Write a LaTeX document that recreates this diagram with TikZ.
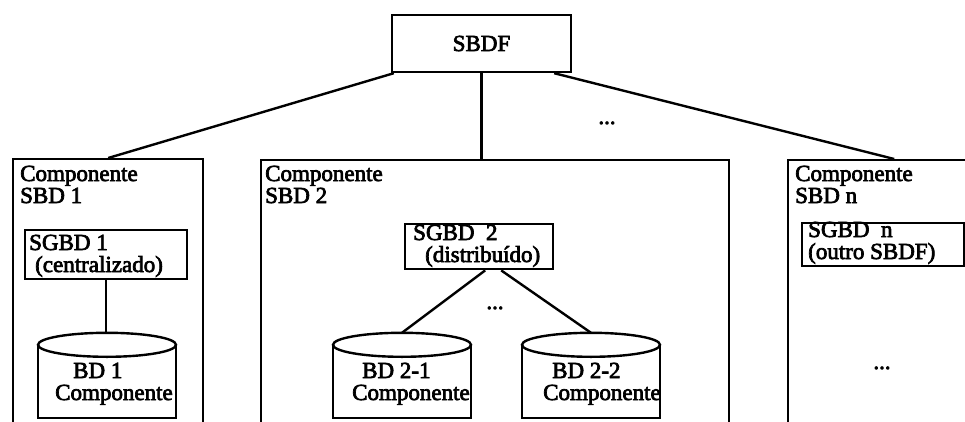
\documentclass[tikz,border=0pt]{standalone}
\usepackage{fontspec}
\setmainfont{Liberation Serif}[FakeBold=3]
\usetikzlibrary{calc}
\begin{document}
\begin{tikzpicture}[x=1pt,y=-1pt,
  every node/.style={font=\fontsize{23pt}{22pt}\selectfont},
  frame/.style={draw, line width=2.4pt, inner sep=0pt, anchor=north west},
  link/.style={line width=2.4pt},
  lbl/.style={inner sep=0pt, anchor=base west, align=left},
  cylbox/.style={inner sep=0pt, minimum width=138pt, minimum height=85pt},
  dots/.style={inner sep=0pt, anchor=base}]
\useasboundingbox (0,0) rectangle (965,422);
\fill[white] (0,0) rectangle (965,422);
\clip (0,0) rectangle (965,422);

% federated system on top
\node[draw, line width=2.4pt, minimum width=179pt, minimum height=57pt] (sbdf) at (481.5,43.5) {SBDF};

% component systems (they run past the lower and right borders)
\node[frame, minimum width=190pt, minimum height=290pt] (c1) at (12,158) {};
\node[frame, minimum width=468pt, minimum height=290pt] (c2) at (260,159) {};
\node[frame, minimum width=212pt, minimum height=290pt] (c3) at (787,159) {};

% labels: the base anchor sits on the last line
\node[lbl] (c1t) at (20,203) {Componente\\SBD 1};
\node[lbl] (c2t) at (265,203) {Componente\\SBD 2};
\node[lbl] (c3t) at (795,203) {Componente\\SBD n};

% links from the federated system
\draw[link] ([xshift=3pt]sbdf.south west) -- (c1.north);
\draw[link] (sbdf.south) -- (sbdf.south |- c2.north);
\draw[link] ([xshift=-18pt]sbdf.south east) -- (c3.north);
\node[dots] (topdots) at (607,124) {...};

% local DBMS boxes
\node[frame, minimum width=162pt, minimum height=49pt] (s1) at (24,229) {};
\node[frame, minimum width=148pt, minimum height=45pt] (s2) at (404,223) {};
\node[frame, minimum width=162pt, minimum height=43pt] (sn) at (801,222) {};

\node[lbl] (s1t) at (29,272) {SGBD 1\\\hspace*{6pt}(centralizado)};
\node[lbl] (s2t) at (413,262) {SGBD\ \ 2\\\hspace*{12pt}(distribuído)};
\node[lbl] (snt) at (808,259) {SGBD\ \ n\\(outro SBDF)};

% databases
\node[cylbox] (d1)  at (107,375.5) {};
\node[cylbox] (d21) at (402,375.5) {};
\node[cylbox] (d22) at (591,375.5) {};
\foreach \c in {d1,d21,d22} {
  \draw[link] ([yshift=-12pt]\c.north west) -- (\c.south west)
              -- (\c.south east) -- ([yshift=-12pt]\c.north east);
  \draw[link] ([yshift=-12pt]\c.north) ellipse [x radius=69pt, y radius=12pt];
}
\node[lbl] (d1t)  at (55,400)  {\hspace*{18pt}BD 1\\Componente};
\node[lbl] (d21t) at (352,400) {\hspace*{10pt}BD 2-1\\Componente};
\node[lbl] (d22t) at (543,400) {\hspace*{9pt}BD 2-2\\Componente};

% DBMS to databases
\draw[link] (s1.south) -- (s1.south |- d1.north);
\draw[link] ([xshift=6pt]s2.south) -- (d21.north);
\draw[link] ([xshift=22pt]s2.south) -- (d22.north);
\node[dots] (middots) at (495,309) {...};
\node[dots] (ndots) at (882,369) {...};
\end{tikzpicture}
\end{document}
